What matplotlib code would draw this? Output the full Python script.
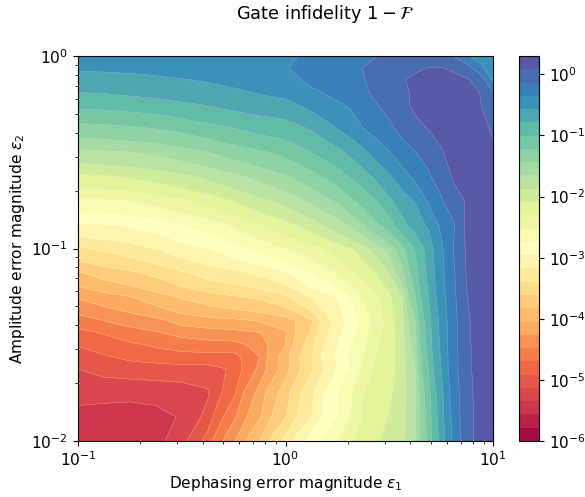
import numpy as np
import matplotlib
matplotlib.use("Agg")
import matplotlib.pyplot as plt
from matplotlib.colors import LogNorm
from matplotlib.ticker import NullLocator

W, H = 585, 497
log_eps1 = [-1,-.875,-.75,-.625,-.5,-.375,-.25,-.125,0,.125,.25,.3125,.375,.4375,.5,.5625,.625,.6875,.75,.8125,.875,.9375,1]
log_eps2 = [-2,-1.875,-1.75,-1.625,-1.5625,-1.5,-1.4375,-1.375,-1.25,-1.125,-1,-.875,-.75,-.625,-.5,-.375,-.3125,-.25,-.1875,-.125,-.0625,0]
cbar_ticks = [1e-6, 1e-5, 1e-4, 1e-3, 1e-2, 1e-1, 1e0]

# log10 of gate infidelity, one list per eps2 row (bottom to top)
r00 = [-5.5,-5.5,-5.48,-5.42,-5.23,-4.84,-4.31,-3.83,-3.34,-2.87,-2.53,-2.34,-2.22,-2.12,-2.02,-1.92,-1.71,-1.18,-.72,-.30,0,.16,.25]
r01 = [-5.42,-5.44,-5.45,-5.41,-5.33,-5.07,-4.54,-4.08,-3.63,-3.18,-2.74,-2.53,-2.28,-2.17,-2.08,-1.94,-1.70,-1.15,-.68,-.28,0,.16,.25]
r02 = [-5.27,-5.28,-5.29,-5.28,-5.25,-5.16,-4.76,-4.2,-3.73,-3.25,-2.76,-2.56,-2.31,-2.21,-2.14,-1.97,-1.72,-1.10,-.65,-.25,0,.17,.25]
r03 = [-5.13,-5.06,-5.03,-5.01,-5.0,-5.0,-4.88,-4.44,-3.95,-3.45,-2.98,-2.74,-2.48,-2.27,-2.2,-1.98,-1.65,-1.0,-.57,-.22,.03,.17,.25]
r04 = [-5.02,-4.94,-4.86,-4.82,-4.78,-4.78,-4.80,-4.48,-3.94,-3.43,-2.92,-2.7,-2.53,-2.3,-2.2,-1.98,-1.62,-.97,-.55,-.22,.03,.17,.25]
r05 = [-4.90,-4.80,-4.74,-4.66,-4.60,-4.57,-4.56,-4.40,-4.05,-3.5,-2.98,-2.77,-2.57,-2.35,-2.2,-1.98,-1.54,-.92,-.53,-.22,.04,.17,.25]
r06 = [-4.76,-4.68,-4.56,-4.50,-4.41,-4.36,-4.33,-4.27,-4.07,-3.58,-3.04,-2.82,-2.64,-2.38,-2.21,-1.97,-1.5,-.9,-.52,-.21,.05,.18,.25]
r07 = [-4.58,-4.48,-4.40,-4.33,-4.18,-4.13,-4.10,-4.03,-3.95,-3.66,-3.10,-2.88,-2.68,-2.46,-2.21,-1.96,-1.44,-.89,-.51,-.21,.05,.18,.25]
r08 = [-4.24,-4.14,-4.05,-3.92,-3.80,-3.71,-3.63,-3.57,-3.44,-3.15,-2.95,-2.74,-2.49,-2.36,-2.15,-1.87,-1.22,-.79,-.46,-.18,.08,.19,.25]
r09 = [-3.85,-3.73,-3.65,-3.55,-3.42,-3.30,-3.23,-3.13,-3.0,-2.73,-2.5,-2.36,-2.24,-2.08,-1.87,-1.50,-1.09,-.74,-.43,-.15,.1,.19,.25]
r10 = [-3.43,-3.35,-3.28,-3.17,-3.06,-2.96,-2.83,-2.69,-2.52,-2.38,-2.21,-2.11,-1.96,-1.78,-1.57,-1.29,-.98,-.71,-.40,-.12,.11,.2,.25]
r11 = [-3.0,-2.97,-2.93,-2.86,-2.74,-2.64,-2.49,-2.31,-2.16,-1.98,-1.75,-1.62,-1.44,-1.25,-1.1,-.85,-.69,-.53,-.31,-.15,.13,.2,.24]
r12 = [-2.58,-2.56,-2.52,-2.44,-2.34,-2.22,-2.08,-1.92,-1.8,-1.6,-1.40,-1.26,-1.13,-1.0,-.82,-.68,-.55,-.33,-.16,.02,.1,.18,.22]
r13 = [-2.13,-2.11,-2.07,-2.0,-1.92,-1.82,-1.71,-1.58,-1.46,-1.3,-1.1,-.98,-.87,-.74,-.6,-.43,-.3,-.17,-.03,.11,.15,.2,.2]
r14 = [-1.71,-1.69,-1.66,-1.61,-1.53,-1.44,-1.34,-1.25,-1.16,-1.0,-.85,-.74,-.62,-.48,-.36,-.24,-.14,-.04,.07,.14,.2,.18,.12]
r15 = [-1.30,-1.28,-1.25,-1.21,-1.16,-1.09,-1.0,-.93,-.88,-.76,-.56,-.47,-.35,-.26,-.18,-.06,0,.09,.13,.18,.2,.15,.05]
r16 = [-1.11,-1.10,-1.07,-1.03,-.97,-.89,-.85,-.79,-.75,-.61,-.47,-.38,-.30,-.2,-.12,0,.08,.13,.16,.19,.19,.12,0]
r17 = [-.93,-.92,-.89,-.86,-.81,-.77,-.71,-.65,-.62,-.5,-.37,-.33,-.24,-.14,-.05,.05,.11,.15,.18,.18,.15,.09,-.05]
r18 = [-.78,-.77,-.74,-.71,-.68,-.64,-.60,-.55,-.5,-.38,-.30,-.27,-.17,-.09,-.01,.05,.11,.15,.17,.16,.13,.08,-.13]
r19 = [-.66,-.65,-.63,-.61,-.58,-.55,-.51,-.47,-.42,-.31,-.24,-.19,-.14,-.1,-.03,.07,.12,.14,.15,.13,.10,-.03,-.42]
r20 = [-.54,-.53,-.52,-.5,-.48,-.46,-.44,-.41,-.36,-.29,-.25,-.21,-.13,-.09,-.05,-.01,.05,.09,.09,.05,-.06,-.3,-.5]
r21 = [-.46,-.455,-.45,-.44,-.43,-.42,-.41,-.39,-.37,-.33,-.28,-.24,-.2,-.14,-.11,-.07,-.03,-.05,-.09,-.16,-.34,-.44,-.52]

Z = 10.0 ** np.array([r00,r01,r02,r03,r04,r05,r06,r07,r08,r09,r10,r11,r12,r13,r14,r15,r16,r17,r18,r19,r20,r21])
X, Y = np.meshgrid(10.0 ** np.array(log_eps1), 10.0 ** np.array(log_eps2))
levels = np.logspace(-6, 0.3, 30)

def box(l, t, r, b):
    return [l / W, 1 - b / H, (r - l) / W, (b - t) / H]

fig = plt.figure(figsize=(W / 100, H / 100), dpi=100)
ax = fig.add_axes(box(78, 56, 493, 441))
cf = ax.contourf(X, Y, Z, levels=levels, norm=LogNorm(1e-6, 10 ** 0.3), cmap="Spectral")
ax.contour(X, Y, Z, levels=levels, colors="white", linewidths=0.35, alpha=0.4)
ax.set_xscale("log"); ax.set_yscale("log")
ax.set_xlim(0.1, 10); ax.set_ylim(0.01, 1)
ax.tick_params(labelsize=11.2)
ax.set_xlabel(r"Dephasing error magnitude $\varepsilon_1$", fontsize=11.1, labelpad=3)
ax.set_ylabel(r"Amplitude error magnitude $\varepsilon_2$", fontsize=11.1, labelpad=3)

cax = fig.add_axes(box(519, 56, 539, 441))
cb = fig.colorbar(cf, cax=cax, ticks=cbar_ticks)
cb.ax.yaxis.set_minor_locator(NullLocator())
cb.ax.tick_params(labelsize=11.0)

fig.text(325 / W, 1 - 14 / H, r"Gate infidelity $1-\mathcal{F}$", ha="center", va="center", fontsize=12.8)
fig.savefig("out.png", dpi=100)
